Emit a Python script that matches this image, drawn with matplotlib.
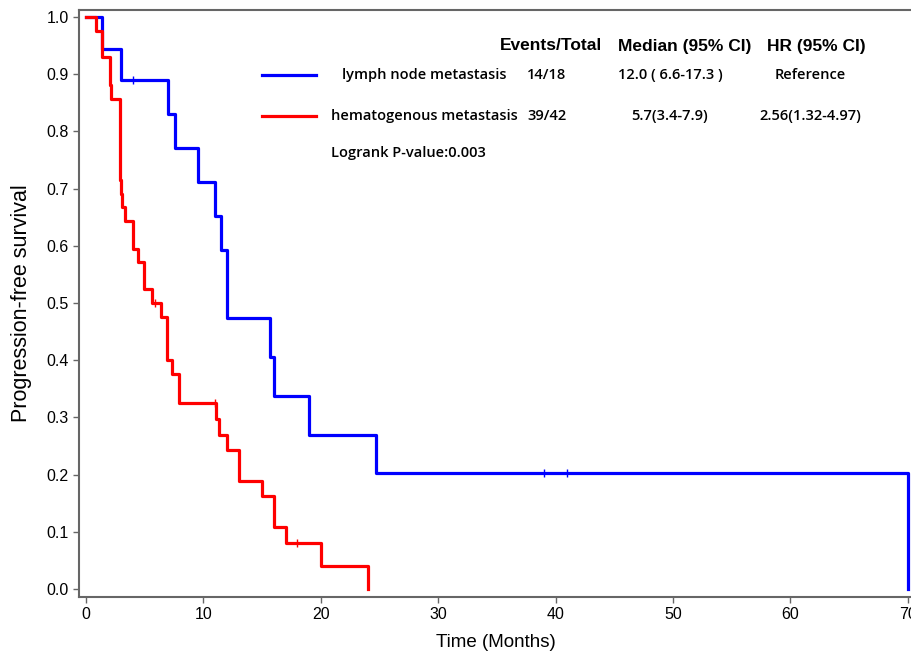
import matplotlib
matplotlib.use("Agg")
import matplotlib.pyplot as plt

# Kaplan-Meier steps
ln_time = [0, 1.4, 3.0, 7.0, 7.6, 9.5, 11.0, 11.5, 12.0, 15.7, 16.0, 19.0, 24.7, 70.0]
ln_surv = [1.0, 0.944, 0.889, 0.830, 0.770, 0.711, 0.652, 0.593, 0.474, 0.406, 0.338, 0.270, 0.203, 0.0]
ln_cens_t = [4.0, 39.0, 41.0]
ln_cens_s = [0.889, 0.203, 0.203]

hm_time = [0, 0.85, 1.4, 2.0, 2.1, 2.9, 3.0, 3.1, 3.3, 4.0, 4.4, 4.9, 5.6, 6.4, 6.9, 7.3, 7.9,
           11.1, 11.3, 12.0, 13.0, 15.0, 16.0, 17.0, 20.0, 24.0]
hm_surv = [1.0, 0.976, 0.929, 0.881, 0.857, 0.714, 0.690, 0.667, 0.643, 0.595, 0.571, 0.524, 0.500,
           0.475, 0.400, 0.375, 0.325, 0.297, 0.270, 0.243, 0.189, 0.162, 0.108, 0.081, 0.0405, 0.0]
hm_cens_t = [5.9, 11.0, 18.0]
hm_cens_s = [0.500, 0.325, 0.081]

groups = ["lymph node metastasis", "hematogenous metastasis"]
events = ["14/18", "39/42"]
medians = ["12.0 ( 6.6-17.3 )", "5.7(3.4-7.9)"]
hrs = ["Reference", "2.56(1.32-4.97)"]

W, H = 912, 655
fig = plt.figure(figsize=(W / 100, H / 100), dpi=100)
ax = fig.add_axes([79 / W, (H - 597) / H, (W - 79) / W, (597 - 10) / H])

ax.step(ln_time, ln_surv, where="post", color="#0000ff", lw=2.3)
ax.step(hm_time, hm_surv, where="post", color="#ff0000", lw=2.3)
ax.plot(ln_cens_t, ln_cens_s, ls="none", marker="|", ms=6, mew=1, color="#0000ff")
ax.plot(hm_cens_t, hm_cens_s, ls="none", marker="|", ms=6, mew=1, color="#ff0000")

ax.set_xlim(-0.6, 70.36)
ax.set_ylim(-0.014, 1.012)
ax.set_xticks(range(0, 71, 10))
ax.set_yticks([i / 10 for i in range(11)])
ax.set_yticklabels([f"{i / 10:.1f}" for i in range(11)])
for s in ["left", "bottom", "top"]:
    ax.spines[s].set_color("#666666")
    ax.spines[s].set_linewidth(1.5)
ax.spines["right"].set_visible(False)
ax.tick_params(colors="#666666", labelcolor="black", labelsize=11.5, length=4, width=1)
for lab in ax.get_xticklabels() + ax.get_yticklabels():
    lab.set_family("Liberation Sans")
ax.set_xlabel("Time (Months)", family="Liberation Sans", fontsize=13.5, labelpad=8)
ax.set_ylabel("Progression-free survival", family="Liberation Sans", fontsize=15.5, labelpad=10)

def fx(px):
    return px / W

def fy(py):
    return 1 - py / H

# legend table
hdr = dict(family="Liberation Sans", weight="bold", fontsize=12.5, va="center", ha="center")
fig.text(fx(551), fy(46), "Events/Total", **hdr)
fig.text(fx(685), fy(46), "Median (95% CI)", **hdr)
fig.text(fx(816), fy(46), "HR (95% CI)", **hdr)

row = dict(family="Open Sans", weight="semibold", fontsize=10.5, va="center", ha="center")
for i, (yy, col) in enumerate([(75, "#0000ff"), (116, "#ff0000")]):
    fig.add_artist(plt.Line2D([fx(262), fx(316)], [fy(yy), fy(yy)], color=col, lw=2.3))
    fig.text(fx(424), fy(yy), groups[i], **row)
    fig.text(fx(547), fy(yy), events[i], **row)
    fig.text(fx(670), fy(yy), medians[i], **row)
    fig.text(fx(810), fy(yy), hrs[i], **row)
fig.text(fx(331), fy(153), "Logrank P-value:0.003", family="Open Sans", weight="semibold",
         fontsize=10.5, va="center", ha="left")

fig.savefig("out.png", dpi=100)
